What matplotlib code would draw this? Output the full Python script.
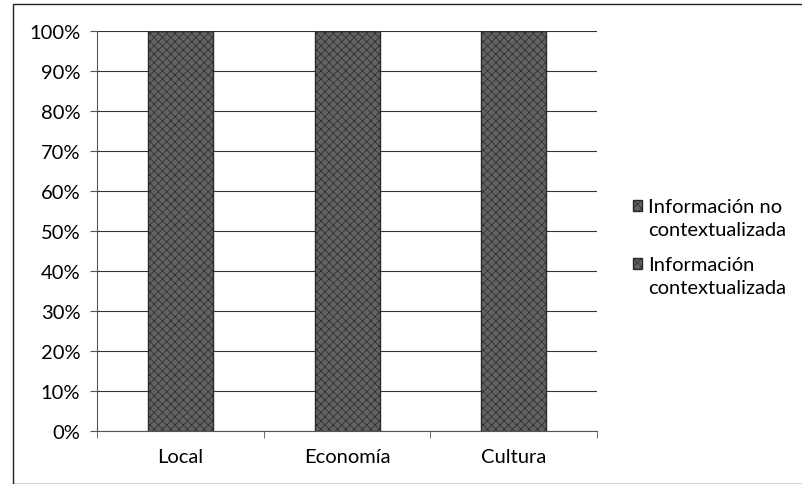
import matplotlib

matplotlib.use("Agg")
import matplotlib.pyplot as plt
import numpy as np
from matplotlib.patches import Rectangle

categories = ["Local", "Economía", "Cultura"]
contextualizada = [100, 100, 100]
no_contextualizada = [0, 0, 0]
yticks = [0, 10, 20, 30, 40, 50, 60, 70, 80, 90, 100]

plt.rcParams["font.family"] = ["Lato", "DejaVu Sans"]
plt.rcParams["hatch.color"] = "#a0a0a0"
plt.rcParams["hatch.linewidth"] = 0.5

fig = plt.figure(figsize=(8.03, 4.85), dpi=100)
ax = fig.add_axes([97 / 803, 1 - 432 / 485, 500 / 803, 400 / 485])

x = np.arange(len(categories))
w = 0.39
FS = 14.5
ax.bar(x, contextualizada, w, color="#626262", edgecolor="#2a2a2a", lw=1.0,
       hatch="xxxx", label="Información\ncontextualizada", zorder=3)
ax.bar(x, no_contextualizada, w, bottom=contextualizada, color="#626262",
       edgecolor="#2a2a2a", lw=1.0, hatch="xxxx",
       label="Información no\ncontextualizada", zorder=3)

ax.set_xlim(-0.5, len(categories) - 0.5)
ax.set_ylim(0, 100)
ax.set_yticks(yticks, [f"{v}%" for v in yticks], fontsize=FS)
ax.yaxis.grid(True, color="#333333", lw=0.8, zorder=0)
ax.set_xticks(x, categories, fontsize=FS)
ax.set_xticks(np.arange(-0.5, len(categories)), minor=True)
ax.tick_params(axis="x", which="major", length=0, pad=12)
ax.tick_params(axis="x", which="minor", length=5, color="#555555")
ax.tick_params(axis="y", length=5, color="#555555", pad=7)
for s in ["top", "right"]:
    ax.spines[s].set_visible(False)
ax.spines["left"].set_color("#555555")
ax.spines["bottom"].set_color("#555555")

h, l = ax.get_legend_handles_labels()
leg = fig.legend(h[::-1], l[::-1], loc="center left",
                 bbox_to_anchor=(623 / 803, 1 - 248 / 485),
                 frameon=False, fontsize=FS, handlelength=0.45, handleheight=0.45,
                 handletextpad=0.3, labelspacing=0.9, borderpad=0)
for t in leg.get_texts():
    t.set_linespacing(1.45)
# Excel puts the swatch next to the first line of each entry
for p in leg.get_patches():
    p.set_y(p.get_y() + 9)

fig.patches.append(Rectangle((13 / 803, 0), 1, 1 - 5 / 485, transform=fig.transFigure,
                             fill=False, edgecolor="#222222", lw=1.0))

fig.savefig("out.png", dpi=100)
